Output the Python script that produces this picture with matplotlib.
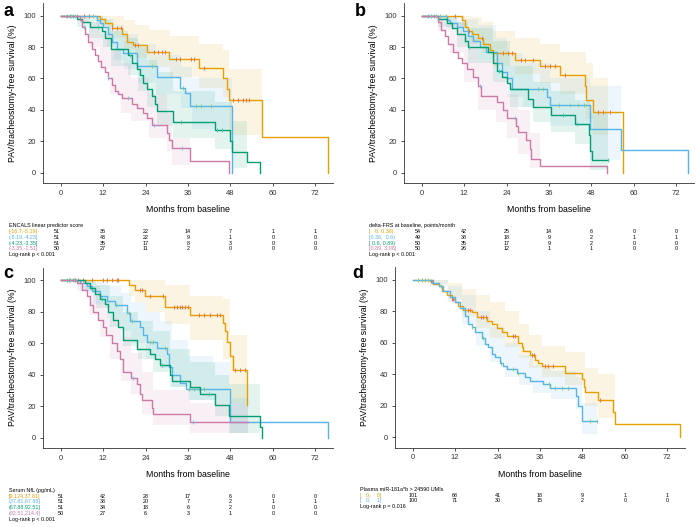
import numpy as np
import matplotlib.pyplot as plt
from matplotlib.transforms import blended_transform_factory

plt.rcParams['font.family'] = ['Liberation Sans', 'DejaVu Sans']

# ---------------- panel a : ENCALS linear predictor score ----------------
a_or_t = [0, 11, 12.5, 14.4, 17.2, 18.7, 20.5, 24.3, 30.7, 39.2, 46, 47, 47.7, 57, 75.7]
a_or_s = [100, 98, 95, 92, 88, 83, 81, 77, 72.5, 66.5, 60, 53, 46.5, 23, 0]
a_or_bt = [0, 11, 14, 18, 21, 25, 31, 39, 46, 47.7, 57]
a_or_lo = [100, 93, 86, 78, 73, 67, 61, 54, 48, 24, 24]
a_or_hi = [100, 100, 100, 97, 94, 91, 87, 82, 78, 66, 66]
a_or_c = [6.5, 8, 14.5, 15.8, 17, 21, 21.8, 26.5, 27.5, 28.6, 29.5, 32.5, 33.8,
          36.8, 37.8, 40.5, 48.8, 50.2, 51.5, 52.5, 53.3]

a_bl_t = [0, 10.2, 11.1, 12, 13.5, 14.4, 15.8, 17.7, 21.5, 27.1, 33.7, 35.2, 36.6, 48.3]
a_bl_s = [100, 97, 95, 93, 88, 83, 79, 76, 68, 61, 54, 51, 42.5, 0]
a_bl_bt = [0, 10, 13, 15, 18, 22, 27, 34, 37, 48.3]
a_bl_lo = [100, 94, 80, 72, 66, 57, 50, 41, 28, 28]
a_bl_hi = [100, 100, 98, 94, 88, 82, 75, 67, 60, 60]
a_bl_c = [2.5, 3.5, 4.5, 9, 25.7, 34.7, 38.2, 39.6, 42.4]

a_gr_t = [0, 4.7, 5.9, 8.3, 11.6, 12.6, 14.2, 19.1, 20.1, 21.5, 22.4, 23.4, 24.3, 25.7,
          26.7, 27.1, 31.7, 43.6, 47.9, 48.5, 52.6, 56.4]
a_gr_s = [100, 98, 96, 93, 90, 86, 79, 75, 70, 66, 62, 57, 53, 49, 44, 39, 32, 27, 20,
          13.5, 7, 0]
a_gr_bt = [0, 4.7, 8, 12, 14.2, 19, 22, 24.3, 27.1, 31.7, 43.6, 48.5, 52.6]
a_gr_lo = [100, 93, 86, 80, 68, 62, 52, 42, 30, 22, 15, 3, 3]
a_gr_hi = [100, 100, 99, 97, 90, 86, 80, 72, 64, 52, 45, 33, 33]
a_gr_c = [1.8, 10.5, 19.5, 34, 44.2, 45.6]

a_pk_t = [0, 5.5, 6.0, 6.9, 7.8, 8.8, 9.7, 10.6, 11.5, 12.5, 13.4, 14.4, 15.3, 16.2, 17.2,
          20.1, 21.5, 23.4, 24.3, 25.7, 30.0, 30.6, 31.4, 36.6, 47.7]
a_pk_s = [100, 97, 93, 88, 83, 79, 75, 71, 67, 64, 60, 56, 52, 50, 47.5, 44, 41, 38, 35,
          30.5, 25, 21, 15.5, 7.6, 0]
a_pk_bt = [0, 5.5, 8, 11, 14, 17, 20, 25, 30, 31.4, 36.6]
a_pk_lo = [100, 95, 80, 66, 50, 38, 33, 22, 14, 5, 5]
a_pk_hi = [100, 100, 96, 88, 78, 70, 60, 50, 38, 22, 22]
a_pk_c = [2.8, 4.0, 6.5, 13.5, 19, 26.3, 34.2]

a_title = 'ENCALS linear predictor score'
a_groups = ['[-16.7,-5.19]', '(-5.19,-4.23]', '(-4.23,-3.35]', '(-3.35,-1.51]']
a_risk = [[51, 36, 22, 14, 7, 1, 1],
          [51, 43, 22, 9, 1, 0, 0],
          [51, 35, 17, 8, 3, 0, 0],
          [50, 27, 11, 2, 0, 0, 0]]
a_p = 'Log-rank p < 0.001'

# ---------------- panel b : delta-FRS ----------------
b_or_t = [0, 11.3, 12.2, 13.2, 14.1, 16, 17.4, 19.3, 20.2, 26.3, 33.4, 39, 46.1, 46.6, 48.4, 56.9]
b_or_s = [100, 97, 93, 90, 88, 86, 82, 78, 76, 72, 68, 62, 55, 46, 38.6, 0]
b_or_bt = [0, 11.3, 14, 17, 20.2, 26.3, 33.4, 39, 46.6, 48.4, 52.7]
b_or_lo = [100, 93, 84, 76, 68, 63, 57, 50, 34, 24, 24]
b_or_hi = [100, 100, 99, 96, 90, 86, 82, 77, 70, 60, 60]
b_or_c = [9.5, 13.5, 17, 23, 24.4, 25.4, 28, 29.2, 31.5, 35, 36.2, 37.6, 40.5, 49.9, 51.3, 53.2]

b_bl_t = [0, 7.1, 8, 9.9, 11.8, 13.2, 14.6, 16.5, 18.3, 21.2, 22.6, 24, 25.5, 35.3, 36.2,
          47.7, 56.4, 75.4]
b_bl_s = [100, 97, 95, 93, 90, 87, 84, 80, 77, 70, 64, 60, 53, 48, 43, 28, 14.5, 0]
b_bl_bt = [0, 7, 12, 16, 21, 24, 28.7, 36.2, 47.7, 56.4]
b_bl_lo = [100, 92, 82, 72, 60, 48, 42, 30, 8, 8]
b_bl_hi = [100, 100, 98, 94, 86, 76, 70, 60, 55, 55]
b_bl_c = [2.5, 3.5, 5.2, 6.8, 33, 34.3, 38.8, 42, 44.2, 46]

b_gr_t = [0, 4.7, 7.1, 8.5, 9.9, 12.2, 13.2, 18.8, 20.2, 21.2, 22.6, 24, 24.9, 30.1, 31.5,
          36.7, 43.3, 47.3, 47.7, 48.2, 52.7]
b_gr_s = [100, 98, 95, 92, 88, 84, 80, 77, 70, 65, 61, 57, 53, 47, 42, 37, 31, 24, 14, 8, 8]
b_gr_bt = [0, 4.7, 9.9, 13.2, 20.2, 24.9, 31.5, 36.7, 43.3, 47.7, 52.7]
b_gr_lo = [100, 93, 80, 70, 58, 42, 32, 26, 18, 2, 2]
b_gr_hi = [100, 100, 96, 92, 84, 68, 58, 52, 46, 38, 38]
b_gr_c = [1.8, 13.5, 22, 40, 43.8, 52.7]

b_pk_t = [0, 4.7, 5.6, 6.6, 7.5, 8.9, 10.3, 11.3, 12.7, 14.6, 16.0, 16.9, 21.2, 23.0, 24.0,
          26.8, 27.3, 29.6, 30.6, 31.0, 33.4, 52.5]
b_pk_s = [100, 96, 91, 87, 82, 77, 73, 70, 66, 61, 55, 49, 45, 40, 35, 30, 26, 21, 15, 9,
          4.5, 0]
b_pk_bt = [0, 4.7, 8, 12, 16, 21, 24, 27.3, 30.6, 33.4]
b_pk_lo = [100, 90, 76, 58, 40, 32, 22, 12, 3, 3]
b_pk_hi = [100, 100, 96, 86, 72, 60, 50, 40, 25, 25]
b_pk_c = [2.7, 4.0, 16.4, 26.3]

b_title = 'delta-FRS at baseline, points/month'
b_groups = ['[   0, 0.36)', '[0.36,  0.6)', '[ 0.6, 0.89)', '[0.89, 3.08]']
b_risk = [[54, 42, 25, 14, 6, 0, 0],
          [49, 38, 18, 9, 2, 1, 1],
          [50, 35, 17, 9, 2, 0, 0],
          [50, 26, 12, 1, 1, 0, 0]]
b_p = 'Log-rank p < 0.001'

# ---------------- panel c : serum NfL ----------------
c_or_t = [0, 19.4, 21, 23.8, 29.5, 36.6, 45.8, 46.4, 47.1, 47.9, 48.8, 52.6]
c_or_s = [100, 97, 94, 90, 83, 78, 73, 68, 61, 52, 43, 21]
c_or_bt = [0, 19.4, 21, 24, 29.5, 36.6, 45.8, 47.9, 52.6]
c_or_lo = [100, 90, 86, 80, 72, 62, 50, 22, 22]
c_or_hi = [100, 100, 100, 100, 97, 90, 88, 65, 65]
c_or_c = [2.6, 4, 6.4, 8.8, 12, 13, 14.4, 15.8, 16.3, 22.4, 22.9, 25.3, 29, 31.9, 32.9,
          33.8, 34.3, 35.2, 36.1, 39, 40.4, 42.2, 44.1, 45, 49.3, 50.6, 52]

c_bl_t = [0, 5.5, 7.4, 8.8, 11.1, 13, 15.4, 18.7, 19.6, 22.4, 23.4, 24.3, 27.1, 30, 30.5,
          31.4, 33.7, 35.5, 47.9, 75.7]
c_bl_s = [100, 98, 96, 93, 90, 87, 84, 79, 74, 70, 65, 61, 57, 53, 45, 40, 35, 31, 10, 0]
c_bl_bt = [0, 5.5, 9, 13, 17, 20, 24, 28, 31.4, 36, 43, 47.9, 53]
c_bl_lo = [100, 93, 85, 76, 68, 60, 50, 44, 32, 24, 22, 3, 3]
c_bl_hi = [100, 100, 99, 96, 92, 86, 80, 74, 62, 52, 48, 25, 25]
c_bl_c = [2.3, 3.5, 4.9, 15.6, 19.3, 20.2, 25.3, 26.2, 29.5, 36.3, 37.6, 39, 40.4]

c_gr_t = [0, 6.9, 8.3, 9.7, 11.1, 12.5, 13.5, 14.9, 16.3, 17.7, 21.5, 25.3, 26.7, 28.1,
          30.9, 31.4, 36.6, 39.4, 43.6, 47.7, 56.4, 57]
c_gr_s = [100, 98, 95, 91, 88, 85, 80, 75, 70, 62, 56, 53, 50, 46, 40, 36, 32, 28, 21, 14, 7, 0]
c_gr_bt = [0, 6.9, 10, 14, 17.7, 22, 26, 30.9, 36.6, 43.6, 47.7, 56.4]
c_gr_lo = [100, 93, 82, 70, 58, 50, 42, 32, 24, 14, 3, 3]
c_gr_hi = [100, 100, 97, 90, 80, 74, 68, 56, 48, 40, 34, 34]
c_gr_c = [1.8, 11.8, 28.6, 41.8]

c_pk_t = [0, 4.5, 5.9, 7.4, 8.3, 9.2, 10.6, 12, 12.9, 14.4, 15.8, 16.8, 17.7, 20, 21.5,
          22.4, 22.9, 25.7, 26.2, 36.6, 53]
c_pk_s = [100, 98, 94, 90, 84, 80, 75, 70, 65, 60, 55, 50, 42, 38, 34, 28, 24, 19, 15, 10, 10]
c_pk_bt = [0, 4.5, 8, 11, 14, 17, 20, 23, 26.2, 36.6, 53]
c_pk_lo = [100, 93, 78, 64, 50, 36, 28, 15, 8, 3, 3]
c_pk_hi = [100, 100, 96, 86, 76, 64, 54, 42, 30, 22, 22]
c_pk_c = [2.6, 3.8, 20.5, 37.3]

c_title = 'Serum NfL (pg/mL)'
c_groups = ['[9.124,37.81]', '(37.81,67.88]', '(67.88,92.51]', '(92.51,214.4]']
c_risk = [[51, 42, 28, 17, 6, 0, 0],
          [51, 38, 20, 7, 2, 1, 1],
          [51, 34, 18, 6, 2, 0, 0],
          [50, 27, 6, 3, 1, 0, 0]]
c_p = 'Log-rank p < 0.001'

# ---------------- panel d : plasma miR-181a*b ----------------
d_or_t = [0, 4.9, 5.8, 7.3, 8.2, 9.6, 11, 12, 12.9, 14.3, 16.7, 18.1, 20.9, 22.3, 23.8,
          25.2, 26.6, 29.9, 30.8, 31.3, 33.2, 34.6, 35.5, 36.5, 43.1, 47.8, 48.3, 48.7,
          52.5, 56.7, 57.2, 75.6]
d_or_s = [100, 99, 97.5, 96, 93, 90, 88, 86, 83, 81, 79.5, 76, 74, 72, 69, 66.5, 64, 60,
          57, 54.5, 52, 49, 47, 45.5, 41, 37, 32, 28.7, 23.7, 16, 8.2, 0]
d_or_bt = [0, 5, 10, 14, 18, 22, 26, 30, 33, 36.5, 43.1, 48.7, 52.5, 57.2]
d_or_lo = [100, 97, 88, 77, 69, 63, 57, 50, 44, 38, 33, 20, 12, 12]
d_or_hi = [100, 100, 98, 94, 90, 86, 80, 72, 65, 58, 54, 44, 40, 40]
d_or_c = [5.3, 5.7, 11, 11.5, 15.7, 16.2, 19.3, 19.8, 20.7, 28.5, 29, 33.7, 34.2, 37.3,
          38.2, 39.6, 53]

d_bl_t = [0, 5.4, 7.3, 8.7, 10.6, 12, 13.4, 14.8, 15.7, 16.7, 17.6, 19.5, 20.5, 21.4, 22.3,
          23.3, 24.7, 25.6, 26.6, 29.4, 31.8, 33.2, 36.9, 38.8, 46.2, 46.8, 47.8, 52]
d_bl_s = [100, 98, 96, 93, 89, 86, 82, 77, 72, 70, 67, 63, 59, 57, 53, 51, 47, 45, 43, 41,
          38, 36, 34, 31, 26, 20, 10, 10]
d_bl_bt = [0, 5, 10, 14, 18, 22, 26, 30, 34, 39, 46.2, 47.8, 52]
d_bl_lo = [100, 96, 86, 72, 58, 48, 38, 33, 28, 24, 18, 2, 2]
d_bl_hi = [100, 100, 96, 90, 80, 70, 60, 52, 46, 42, 38, 22, 22]
d_bl_c = [1.6, 2.5, 3.5, 4.2, 8, 16.7, 20, 25, 28.5, 29.9, 38.5, 40.3, 42.2, 44, 50, 52]

d_title = 'Plasma miR-181a*b > 24590 UMIs'
d_groups = ['[   0,    0]', '[   0,    1]']
d_risk = [[101, 68, 41, 18, 9, 1, 1],
          [100, 71, 30, 15, 2, 0, 0]]
d_p = 'Log-rank p = 0.016'

month_ticks = [0, 12, 24, 36, 48, 60, 72]
surv_ticks = [0, 20, 40, 60, 80, 100]

COLS = ['#E69F00', '#56B4E9', '#009E73', '#CC79A7']
CENS = ['#E9705A', '#8FCB72', '#4FC1B9', '#79C4E6']

W, H = 700, 527
fig = plt.figure(figsize=(7, 5.27), dpi=100)


def px_axes(x0, y0, x1, y1):
    return fig.add_axes([x0 / W, 1 - y1 / H, (x1 - x0) / W, (y1 - y0) / H])


def draw_km(ax, t, s, bt, lo, hi, cens, i):
    ax.fill_between(bt, lo, hi, step='post', color=COLS[i], alpha=0.11, lw=0)
    ax.step(t, s, where='post', color=COLS[i], lw=1.0)
    t = np.asarray(t, float)
    s = np.asarray(s, float)
    idx = np.searchsorted(t, cens, side='right') - 1
    ax.plot(cens, s[idx], ls='none', marker='|', ms=3.5, mew=0.7, color=CENS[i])


def style(ax):
    ax.set_xlim(-5, 77)
    ax.set_ylim(-6.5, 108)
    ax.set_xticks(month_ticks)
    ax.set_yticks(surv_ticks)
    for sp in ['top', 'right']:
        ax.spines[sp].set_visible(False)
    for sp in ['left', 'bottom']:
        ax.spines[sp].set_linewidth(0.6)
        ax.spines[sp].set_color('#333333')
    ax.tick_params(length=2.5, width=0.6, labelsize=5.5, pad=2.5, colors='#333333')
    ax.set_xlabel('Months from baseline', fontsize=6.3, labelpad=6)
    ax.set_ylabel('PAV/tracheostomy-free survival (%)', fontsize=6.3, labelpad=5)


def risk_table(ax, title, groups, risk, pval, x_px, y_px, first_col):
    tr = blended_transform_factory(ax.transData, fig.transFigure)
    fs = 3.9
    step = 5.8
    fig.text(x_px / W, 1 - y_px / H, title, fontsize=fs, va='center')
    for i, (lab, row) in enumerate(zip(groups, risk)):
        y = 1 - (y_px + step * (i + 1)) / H
        fig.text(x_px / W, y, lab, fontsize=fs, va='center', color=COLS[i])
        for j, (m, n) in enumerate(zip(month_ticks, row)):
            xm = first_col if j == 0 else m
            ax.text(xm, y, str(n), transform=tr, ha='center', va='center', fontsize=fs)
    fig.text(x_px / W, 1 - (y_px + step * (len(groups) + 1)) / H, pval,
             fontsize=fs, va='center')


# panel a
ax = px_axes(43, 3, 333, 183)
draw_km(ax, a_or_t, a_or_s, a_or_bt, a_or_lo, a_or_hi, a_or_c, 0)
draw_km(ax, a_bl_t, a_bl_s, a_bl_bt, a_bl_lo, a_bl_hi, a_bl_c, 1)
draw_km(ax, a_gr_t, a_gr_s, a_gr_bt, a_gr_lo, a_gr_hi, a_gr_c, 2)
draw_km(ax, a_pk_t, a_pk_s, a_pk_bt, a_pk_lo, a_pk_hi, a_pk_c, 3)
style(ax)
risk_table(ax, a_title, a_groups, a_risk, a_p, 9, 225.7, -1.1)
fig.text(3 / W, 1 - 11 / H, 'a', fontsize=13, fontweight='bold', va='center')

# panel b
ax = px_axes(404, 3, 694, 183)
draw_km(ax, b_or_t, b_or_s, b_or_bt, b_or_lo, b_or_hi, b_or_c, 0)
draw_km(ax, b_bl_t, b_bl_s, b_bl_bt, b_bl_lo, b_bl_hi, b_bl_c, 1)
draw_km(ax, b_gr_t, b_gr_s, b_gr_bt, b_gr_lo, b_gr_hi, b_gr_c, 2)
draw_km(ax, b_pk_t, b_pk_s, b_pk_bt, b_pk_lo, b_pk_hi, b_pk_c, 3)
style(ax)
risk_table(ax, b_title, b_groups, b_risk, b_p, 369, 225.7, -1.0)
fig.text(355 / W, 1 - 11 / H, 'b', fontsize=13, fontweight='bold', va='center')

# panel c
ax = px_axes(43, 267.5, 333, 448)
draw_km(ax, c_or_t, c_or_s, c_or_bt, c_or_lo, c_or_hi, c_or_c, 0)
draw_km(ax, c_bl_t, c_bl_s, c_bl_bt, c_bl_lo, c_bl_hi, c_bl_c, 1)
draw_km(ax, c_gr_t, c_gr_s, c_gr_bt, c_gr_lo, c_gr_hi, c_gr_c, 2)
draw_km(ax, c_pk_t, c_pk_s, c_pk_bt, c_pk_lo, c_pk_hi, c_pk_c, 3)
style(ax)
risk_table(ax, c_title, c_groups, c_risk, c_p, 9, 490.3, 0.1)
fig.text(3 / W, 1 - 274 / H, 'c', fontsize=13, fontweight='bold', va='center')

# panel d
ax = px_axes(395, 267, 685, 447.5)
draw_km(ax, d_or_t, d_or_s, d_or_bt, d_or_lo, d_or_hi, d_or_c, 0)
draw_km(ax, d_bl_t, d_bl_s, d_bl_bt, d_bl_lo, d_bl_hi, d_bl_c, 1)
style(ax)
risk_table(ax, d_title, d_groups, d_risk, d_p, 360, 489.3, 0.2)
fig.text(352 / W, 1 - 274 / H, 'd', fontsize=13, fontweight='bold', va='center')

fig.savefig('out.png', dpi=100)
